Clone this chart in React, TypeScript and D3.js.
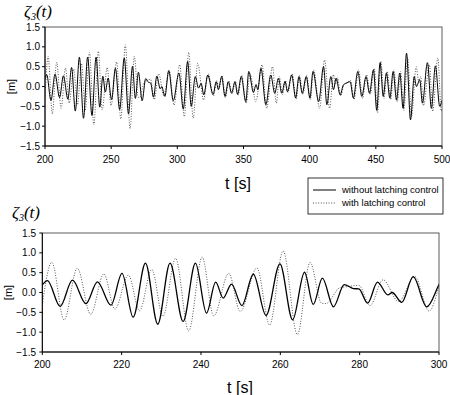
import React from 'react';
import * as d3 from 'd3';

// extrema (time [s], elevation [m])
const tSolid = [200, 201.3, 204.5, 207.6, 211.0, 213.9, 217.3, 220.1, 222.9, 226.0, 229.1, 232.2, 235.5, 238.6, 241.4, 243.7, 245.6, 247.7, 250.3, 253.2, 256.4, 259.9, 263.1, 266.1, 268.3, 270.6, 273.4, 276.1, 278.4, 279.8, 282.0, 284.5, 287.1, 288.2, 290.6, 293.5, 296.9,
  301.2, 304.5, 307.8, 310.5, 313.6, 316.0, 318.0, 320.0, 323.0, 327.0, 329.4, 331.0, 333.5, 336.0, 338.5, 341.0, 343.5, 345.5, 348.3, 351.7, 354.0, 357.5, 359.5, 360.8, 363.2, 366.9, 370.6, 373.6, 376.4, 378.9, 381.4, 383.2, 386.4, 389.4, 391.9, 394.4, 397.4, 400.2,
  402.5, 406.8, 410.5, 413.0, 416.0, 418.0, 420.0, 423.0, 425.5, 427.5, 430.6, 433.0, 436.4, 439.4, 442.6, 445.2, 448.2, 450.7, 453.2, 455.6, 458.0, 460.6, 463.1, 465.6, 468.1, 470.6, 473.2, 476.2, 479.0, 480.7, 483.2, 485.2, 489.0, 492.0, 495.0, 498.3, 500];
const vSolid = [0.19, 0.30, -0.35, 0.31, -0.28, 0.27, -0.32, 0.48, -0.62, 0.74, -0.80, 0.74, -0.73, 0.74, -0.52, 0.26, -0.14, 0.21, -0.33, 0.46, -0.58, 0.72, -0.69, 0.51, -0.30, 0.36, -0.36, 0.20, 0.10, 0.09, -0.27, 0.26, -0.06, 0.0, -0.25, 0.40, -0.36,
  0.34, -0.57, 0.63, -0.50, 0.25, -0.04, 0.08, -0.21, 0.29, -0.20, 0.12, -0.08, 0.25, -0.25, 0.12, -0.17, 0.12, -0.20, 0.25, -0.38, 0.38, -0.15, 0.05, -0.08, 0.46, -0.46, 0.29, -0.17, 0.21, -0.17, 0.13, -0.13, 0.29, -0.29, 0.25, -0.17, 0.25, -0.29,
  0.38, -0.38, 0.50, -0.46, 0.25, -0.08, 0.21, -0.21, 0.04, 0.08, 0.12, -0.29, 0.38, -0.25, 0.25, -0.17, 0.42, -0.60, 0.60, -0.25, 0.34, -0.29, 0.38, -0.34, 0.34, -0.55, 0.84, -0.84, 0.25, 0.00, 0.17, -0.42, 0.60, -0.55, 0.52, -0.50, -0.35];

const tDotted = [200, 202.4, 205.5, 208.8, 212.2, 215.5, 218.3, 221.7, 224.5, 227.6, 230.4, 233.6, 236.9, 240.3, 243.2, 247.0, 249.9, 254.1, 257.3, 260.7, 264.3, 267.5, 270.4, 271.5, 275.0, 277.0, 279.8, 282.6, 285.9, 289.8, 293.9, 297.5,
  301.8, 305.3, 308.6, 312.0, 315.4, 319.8, 323.3, 327.3, 329.8, 331.4, 333.8, 336.4, 338.9, 341.4, 343.9, 345.9, 348.7, 352.0, 355.0, 359.3, 364.0, 367.5, 371.9, 374.8, 377.0, 379.4, 381.8, 383.6, 386.8, 389.8, 392.3, 394.8, 397.8, 400.5,
  403.0, 407.5, 411.3, 415.0, 418.0, 419.5, 421.0, 423.5, 426.0, 428.0, 431.0, 433.5, 437.0, 440.0, 443.0, 445.8, 448.8, 451.3, 453.8, 456.2, 458.6, 461.2, 463.7, 466.2, 468.7, 471.2, 474.0, 477.0, 480.5, 482.3, 484.0, 486.0, 490.5, 493.0, 496.8, 499.5, 500];
const vDotted = [-0.30, 0.76, -0.69, 0.61, -0.55, 0.47, -0.42, 0.44, -0.46, 0.58, -0.60, 0.86, -0.97, 0.89, -0.59, 0.48, -0.48, 0.62, -0.82, 1.05, -1.06, 0.76, -0.27, -0.28, 0.12, 0.15, 0.18, -0.33, 0.32, -0.23, 0.40, -0.47,
  0.55, -0.76, 0.86, -0.80, 0.59, -0.34, 0.32, -0.24, 0.15, -0.06, 0.28, -0.28, 0.14, -0.19, 0.14, -0.22, 0.28, -0.42, 0.32, -0.38, 0.55, -0.55, 0.50, -0.42, 0.25, -0.20, 0.15, -0.15, 0.32, -0.32, 0.28, -0.20, 0.28, -0.33,
  0.42, -0.55, 0.67, -0.55, 0.30, 0.05, 0.22, -0.24, 0.06, 0.10, 0.15, -0.33, 0.42, -0.30, 0.30, -0.20, 0.46, -0.66, 0.64, -0.30, 0.38, -0.33, 0.42, -0.38, 0.38, -0.60, 0.72, -0.75, 0.50, 0.15, 0.25, -0.48, 0.55, -0.63, 0.72, -0.62, -0.55];

const yTicks = [-1.5, -1.0, -0.5, 0.0, 0.5, 1.0, 1.5];
const topXTicks = [200, 250, 300, 350, 400, 450, 500];
const bottomXTicks = [200, 220, 240, 260, 280, 300];

const solid = tSolid.map((t, i) => [t, vSolid[i]] as [number, number]);
const dotted = tDotted.map((t, i) => [t, vDotted[i]] as [number, number]);

const font = "'Liberation Sans', Arial, sans-serif";

type PanelProps = {
  id: string; left: number; right: number; top: number; bottom: number;
  domain: [number, number]; xTicks: number[]; xLabelY: number; yLabelX: number; mLabelX: number;
  thick: number;
};

const Panel = ({ id, left, right, top, bottom, domain, xTicks, xLabelY, yLabelX, mLabelX, thick }: PanelProps) => {
  const x = d3.scaleLinear().domain(domain).range([left, right]);
  const y = d3.scaleLinear().domain([-1.5, 1.5]).range([bottom, top]);
  const line = d3.line<[number, number]>().x(d => x(d[0])).y(d => y(d[1])).curve(d3.curveMonotoneX);
  const fmt = d3.format('.1f');
  return (
    <g>
      <defs>
        <clipPath id={id}>
          <rect x={left} y={top} width={right - left} height={bottom - top} />
        </clipPath>
      </defs>
      <g clipPath={`url(#${id})`}>
        <path d={line(dotted) || ''} fill="none" stroke="#555" strokeWidth={1} strokeDasharray="1 1.6" />
        <path d={line(solid) || ''} fill="none" stroke="#000" strokeWidth={thick} />
      </g>
      <rect x={left} y={top} width={right - left} height={bottom - top} fill="none" stroke="#333" strokeWidth={0.8} />
      <line x1={left} x2={left} y1={top} y2={bottom} stroke="#000" />
      <line x1={left} x2={right} y1={bottom} y2={bottom} stroke="#000" />
      {yTicks.map(v => (
        <g key={v}>
          <line x1={left - 3} x2={left} y1={y(v)} y2={y(v)} stroke="#000" />
          <text x={yLabelX} y={y(v) + 3.5} textAnchor="end" fontSize={10} fontFamily={font}>{fmt(v)}</text>
        </g>
      ))}
      {xTicks.map(t => (
        <g key={t}>
          <line x1={x(t)} x2={x(t)} y1={bottom} y2={bottom + 3} stroke="#000" />
          <text x={x(t)} y={xLabelY} textAnchor="middle" fontSize={10} fontFamily={font}>{t}</text>
        </g>
      ))}
      <text transform={`translate(${mLabelX},${(top + bottom) / 2}) rotate(-90)`} textAnchor="middle" fontSize={11} fontFamily={font}>[m]</text>
    </g>
  );
};

const Zeta = ({ x, y }: { x: number; y: number }) => (
  <text x={x} y={y} fontFamily="'Liberation Serif', 'Times New Roman', serif" fontSize={17} fontStyle="italic">
    ζ<tspan fontSize={10} dy={3}>3</tspan><tspan dy={-3}>(t)</tspan>
  </text>
);

export default function App() {
  return (
    <svg width={450} height={395} style={{ position: 'absolute', left: 0, top: 0, background: '#fff' }}>
      <Zeta x={24} y={17} />
      <Panel id="clipTop" left={45} right={442} top={27} bottom={146} domain={[200, 500]} xTicks={topXTicks}
        xLabelY={163} yLabelX={40} mLabelX={15} thick={1} />
      <text x={238} y={189} textAnchor="middle" fontSize={16} fontFamily={font}>t [s]</text>

      <rect x={308} y={178} width={135} height={36} fill="#fff" stroke="#000" strokeWidth={0.8} />
      <line x1={313} x2={336} y1={190} y2={190} stroke="#000" />
      <text x={342} y={193} fontSize={9.5} fontFamily={font}>without latching control</text>
      <line x1={313} x2={336} y1={203} y2={203} stroke="#555" strokeDasharray="1 1.6" />
      <text x={342} y={206} fontSize={9.5} fontFamily={font}>with latching control</text>

      <Zeta x={12} y={218} />
      <Panel id="clipBottom" left={42.3} right={439} top={233} bottom={352} domain={[200, 300]} xTicks={bottomXTicks}
        xLabelY={368} yLabelX={36} mLabelX={12} thick={1.3} />
      <text x={240} y={393} textAnchor="middle" fontSize={16} fontFamily={font}>t [s]</text>
    </svg>
  );
}
